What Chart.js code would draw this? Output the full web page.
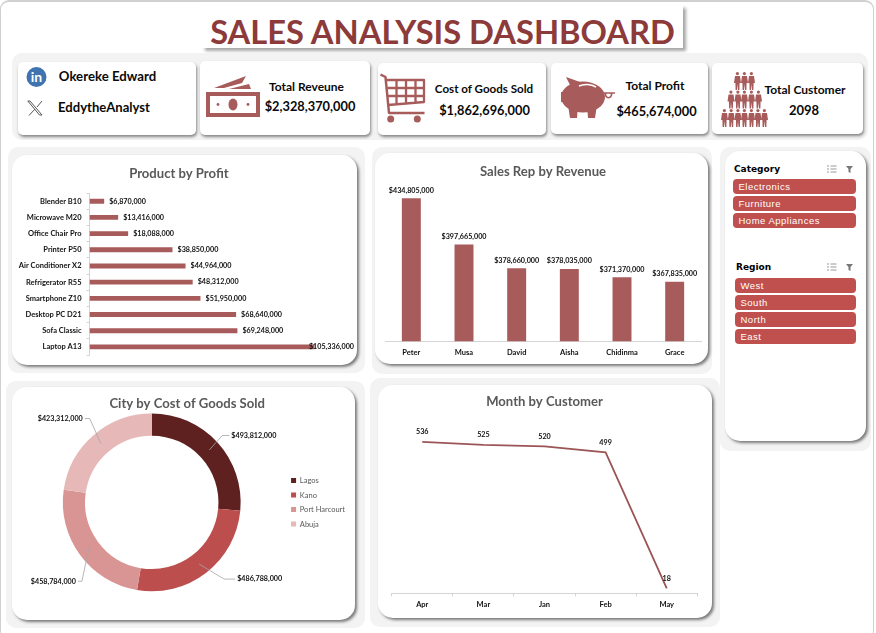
<!DOCTYPE html>
<html><head><meta charset="utf-8">
<script src="https://cdn.jsdelivr.net/npm/chart.js@4"></script>
<style>
html,body{margin:0;padding:0;background:#fff;width:876px;height:633px;overflow:hidden;font-family:Lato,sans-serif}
.a{position:absolute}
.frame{left:0;top:0;width:874px;height:640px;border:1px solid #d0d0d0;border-radius:9px;border-width:2px 1px 0 1px;box-sizing:border-box}
.bg{background:#f3f3f3;border-radius:10px}
.panel{background:#fff;border-radius:15px;box-shadow:2px 2px 3px rgba(0,0,0,.5)}
.card{background:#fff;border-radius:5px;box-shadow:1px 2px 3px rgba(0,0,0,.45)}
.t{white-space:nowrap;color:#0a0a0a;font-weight:700;transform:translate(-50%,-50%)}
.title{left:202px;top:5px;width:481px;height:43px;background:#fff;box-shadow:3px 3px 3px rgba(0,0,0,.35);text-align:center;color:#8c3a3a;font-weight:700;font-size:32.700px;line-height:54px;white-space:nowrap}
canvas{position:absolute;display:block}
.btn{background:#c0504d;border-radius:4px;color:#fff;font:9.500px/15px "Liberation Sans",sans-serif;letter-spacing:.5px;box-sizing:border-box;padding-left:5.500px;height:15px}
.sh{font:bold 9px "DejaVu Sans",sans-serif;color:#000;white-space:nowrap}
</style></head><body>
<div class="a frame"></div>
<div class="a title">SALES ANALYSIS DASHBOARD</div>
<div class="a bg" style="left:12px;top:53px;width:856px;height:87px"></div>
<div class="a bg" style="left:8px;top:147px;width:357px;height:226px"></div>
<div class="a bg" style="left:372px;top:147px;width:340px;height:227px"></div>
<div class="a bg" style="left:720px;top:147px;width:151px;height:304px"></div>
<div class="a bg" style="left:6px;top:381px;width:359px;height:247px"></div>
<div class="a bg" style="left:370px;top:378px;width:350px;height:249px"></div>

<div class="a card" style="left:18px;top:62px;width:178px;height:73px"></div>
<div class="a card" style="left:200px;top:61px;width:170px;height:74px"></div>
<div class="a card" style="left:378px;top:63px;width:168px;height:72px"></div>
<div class="a card" style="left:551px;top:63px;width:157px;height:71px"></div>
<div class="a card" style="left:712px;top:63px;width:151px;height:71px"></div>

<svg class="a" style="left:0;top:0" width="876" height="140" viewBox="0 0 876 140">
<defs><symbol id="p" viewBox="0 0 7 18" overflow="visible"><circle cx="3.4" cy="1.6" r="1.6"/><path d="M1 4h5l1 7H5.6l-.2 7H4L3.5 12 3 18H1.6l-.2-7H0z"/></symbol></defs>
<circle cx="36.5" cy="77" r="10" fill="#3f74b1"/>
<text x="36.5" y="82" text-anchor="middle" fill="#fff" font-family="Lato" font-weight="700" font-size="14">in</text>
<path d="M30 101l12 14h-2.5L27.8 101zM42 101l-5 6M35 109l-6 6.500" fill="none" stroke="#555" stroke-width="1"/>
<g fill="#a85b5b">
<path d="M206 92h54v25h-54z"/>
<path d="M214 88l32-12-4 7-18 5zM229 89l20-5 2 5z"/>
<rect x="210" y="96" width="46" height="17" fill="#fff"/>
<ellipse cx="233" cy="104.500" rx="4.500" ry="6"/>
<circle cx="218" cy="104.500" r="1.400"/><circle cx="248" cy="104.500" r="1.400"/>
<circle cx="390.700" cy="119" r="3.500"/><circle cx="417.300" cy="119" r="3.500"/>
<ellipse cx="583" cy="97" rx="22" ry="15.500"/>
<path d="M566 77l14 5-8 7zM561 92h6v10h-6zM568 105h10l-1 13h-7zM587 105h10l-2 13h-7z"/>
</g>
<path d="M579 86c5-2.500 12-2 17 1" stroke="#fff" stroke-width="1.500" fill="none"/>
<path d="M604 93h11M606 93a3 3 0 1 0 5 0" stroke="#a85b5b" stroke-width="1.500" fill="none"/>
<g fill="none" stroke="#a85b5b" stroke-linejoin="round"><path d="M380.500 74.500l5 2.500 3.500 36h35.500" stroke-width="2.500"/><path d="M387 80h37v22l-36 3M396.500 80v24M406 80v23M415.500 80v22M387.500 88h36.500M388 96h36" stroke-width="2.300"/></g>
<g fill="#a85b5b" id="people">
<use href="#p" x="734" y="72" width="7" height="18"/><use href="#p" x="741" y="72" width="7" height="18"/><use href="#p" x="748" y="72" width="7" height="18"/>
<use href="#p" x="727.500" y="90.500" width="7" height="18"/><use href="#p" x="734.500" y="90.500" width="7" height="18"/><use href="#p" x="741" y="90.500" width="7" height="18"/><use href="#p" x="748" y="90.500" width="7" height="18"/><use href="#p" x="755" y="90.500" width="7" height="18"/>
<use href="#p" x="721" y="109" width="7" height="18"/><use href="#p" x="727.800" y="109" width="7" height="18"/><use href="#p" x="734.500" y="109" width="7" height="18"/><use href="#p" x="741" y="109" width="7" height="18"/><use href="#p" x="748" y="109" width="7" height="18"/><use href="#p" x="754.500" y="109" width="7" height="18"/><use href="#p" x="761" y="109" width="7" height="18"/>
</g>
</svg>

<div class="a t" style="left:107.500px;top:76px;font-size:13.200px">Okereke Edward</div>
<div class="a t" style="left:104px;top:107px;font-size:13.100px">EddytheAnalyst</div>
<div class="a t" style="left:306.500px;top:86px;font-size:12px">Total Reveune</div>
<div class="a t" style="left:310px;top:106px;font-size:12.800px">$2,328,370,000</div>
<div class="a t" style="left:484px;top:88px;font-size:11.600px">Cost of Goods Sold</div>
<div class="a t" style="left:484.500px;top:110px;font-size:12.800px">$1,862,696,000</div>
<div class="a t" style="left:655px;top:85px;font-size:12px">Total Profit</div>
<div class="a t" style="left:656.500px;top:111px;font-size:12.800px">$465,674,000</div>
<div class="a t" style="left:805px;top:89px;font-size:12px">Total Customer</div>
<div class="a t" style="left:804px;top:110px;font-size:13px">2098</div>

<div class="a panel" style="left:12px;top:155px;width:345px;height:210px"></div>
<div class="a panel" style="left:375px;top:153px;width:333px;height:211px"></div>
<div class="a panel" style="left:12px;top:387px;width:343px;height:233px"></div>
<div class="a panel" style="left:378px;top:385px;width:334px;height:233px"></div>
<div class="a panel" style="left:725px;top:151px;width:141px;height:290px"></div>

<canvas id="c1" width="345" height="210" style="left:12px;top:155px"></canvas>
<canvas id="c2" width="333" height="211" style="left:375px;top:153px"></canvas>
<canvas id="c3" width="347" height="233" style="left:12px;top:387px"></canvas>
<canvas id="c4" width="340" height="233" style="left:378px;top:385px"></canvas>

<div class="a sh" style="left:734px;top:164px">Category</div>
<div class="a sh" style="left:736px;top:262px">Region</div>
<svg class="a" style="left:826px;top:165px" width="30" height="10"><g stroke="#999" fill="none"><path d="M1 1h2M1 4h2M1 7h2M4.500 1h6M4.500 4h6M4.500 7h6"/></g><path d="M20 1h7l-2.500 3v4l-2-1V4z" fill="#777"/></svg>
<svg class="a" style="left:826px;top:263px" width="30" height="10"><g stroke="#999" fill="none"><path d="M1 1h2M1 4h2M1 7h2M4.500 1h6M4.500 4h6M4.500 7h6"/></g><path d="M20 1h7l-2.500 3v4l-2-1V4z" fill="#777"/></svg>
<div class="a btn" style="left:733px;top:179px;width:123px">Electronics</div>
<div class="a btn" style="left:733px;top:196px;width:123px">Furniture</div>
<div class="a btn" style="left:733px;top:213px;width:123px">Home Appliances</div>
<div class="a btn" style="left:735px;top:278px;width:121px">West</div>
<div class="a btn" style="left:735px;top:295px;width:121px">South</div>
<div class="a btn" style="left:735px;top:312px;width:121px">North</div>
<div class="a btn" style="left:735px;top:329px;width:121px">East</div>

<script>
const products = ["Blender B10","Microwave M20","Office Chair Pro","Printer P50","Air Conditioner X2","Refrigerator R55","Smartphone Z10","Desktop PC D21","Sofa Classic","Laptop A13"];
const productProfit = [6870000,13416000,18088000,38850000,44964000,48312000,51950000,68640000,69248000,105336000];
const reps = ["Peter","Musa","David","Aisha","Chidinma","Grace"];
const repRevenue = [434805000,397665000,378660000,378035000,371370000,367835000];
const cities = ["Lagos","Kano","Port Harcourt","Abuja"];
const cityCogs = [493812000,486788000,458784000,423312000];
const months = ["Apr","Mar","Jan","Feb","May"];
const monthCustomers = [536,525,520,499,18];

const BAR = "#a85b5b", AXIS = "#d4d4d4", TXT = "#111111", TITLE = "#595959";
const FF = "Lato, sans-serif";
const money = v => "$" + v.toLocaleString("en-US");
const lblFont = "bold 7.2px " + FF;
const title = (text, t, b) => ({display:true,text,color:TITLE,font:{family:FF,size:13.100,weight:"bold",lineHeight:1.2},padding:{top:t,bottom:b}});

const valueLabels = {
  id:"valueLabels",
  afterDatasetsDraw(chart,args,o){
    if(!o.mode) return;
    const c = chart.ctx, meta = chart.getDatasetMeta(0), vals = chart.data.datasets[0].data;
    c.save(); c.font = lblFont; c.fillStyle = TXT;
    meta.data.forEach((el,i)=>{
      const s = o.fmt(vals[i]);
      if(o.mode==="right"){
        const w = c.measureText(s).width;
        c.textAlign="left"; c.textBaseline="middle";
        c.fillText(s, Math.min(el.x+5, chart.width-3-w), el.y);
      } else if(o.mode==="top"){
        c.textAlign="center"; c.textBaseline="middle";
        c.fillText(s, el.x, el.y-o.gap);
      } else if(o.mode==="leader"){
        const p = el.getCenterPoint(), f = o.offsets[i];
        c.strokeStyle="#a6a6a6"; c.lineWidth=.8;
        c.beginPath(); c.moveTo(p.x,p.y); c.lineTo(p.x+f[0],p.y+f[1]); c.lineTo(p.x+f[2],p.y+f[1]); c.stroke();
        c.textAlign = f[2]>0 ? "left":"right"; c.textBaseline="middle";
        c.fillText(s, p.x+f[2]+(f[2]>0?2:-2), p.y+f[1]);
      }
    });
    c.restore();
  }
};
Chart.register(valueLabels);
Chart.defaults.animation = false;
Chart.defaults.responsive = false;
Chart.defaults.plugins.tooltip.enabled = false;
const tick = {color:TXT,font:{family:FF,size:7.500,weight:"bold"}};

new Chart("c1",{type:"bar",
  data:{labels:products,datasets:[{data:productProfit,backgroundColor:BAR,barPercentage:.3,categoryPercentage:1}]},
  options:{indexAxis:"y",layout:{padding:{right:11.2,bottom:10}},
    plugins:{legend:{display:false},title:title("Product by Profit",11,11.4),valueLabels:{mode:"right",fmt:money}},
    scales:{
      x:{display:false,min:0,max:120000000},
      y:{afterFit(s){s.width=77.5},border:{color:AXIS},grid:{drawOnChartArea:false,color:AXIS,tickLength:3},ticks:{...tick,padding:5,autoSkip:false}}
    }}});

new Chart("c2",{type:"bar",
  data:{labels:reps,datasets:[{data:repRevenue,backgroundColor:BAR,barPercentage:.36,categoryPercentage:1}]},
  options:{layout:{padding:{left:10,right:7}},
    plugins:{legend:{display:false},title:title("Sales Rep by Revenue",11.2,11.9),valueLabels:{mode:"top",gap:8,fmt:money}},
    scales:{
      x:{afterFit(s){s.height=22.7},border:{color:AXIS},grid:{display:false,drawTicks:false},ticks:{...tick,padding:7}},
      y:{display:false,min:320000000,max:440000000}
    }}});

new Chart("c3",{type:"doughnut",
  data:{labels:cities,datasets:[{data:cityCogs,backgroundColor:["#5f2120","#bc4f4e","#d99594","#e6b8b7"],borderWidth:0}]},
  options:{cutout:"75%",layout:{padding:{left:7.4,right:4,bottom:28.7}},
    plugins:{title:title("City by Cost of Goods Sold",8.5,2.2),
      legend:{position:"right",fullSize:false,labels:{boxWidth:5,boxHeight:5,padding:7,color:TITLE,font:{family:FF,size:7.5}}},
      valueLabels:{mode:"leader",fmt:money,offsets:[[13,-14.500,20],[25,15,36],[-7,33,-11],[-11,-25,-16]]}}}});

new Chart("c4",{type:"line",
  data:{labels:months,datasets:[{data:monthCustomers,borderColor:"#9c5556",borderWidth:1.800,pointRadius:0,tension:0}]},
  options:{layout:{padding:{left:13.7,right:20.7}},
    plugins:{legend:{display:false},title:title("Month by Customer",8.9,14.1),valueLabels:{mode:"top",gap:10,fmt:v=>String(v)}},
    scales:{
      x:{offset:true,afterFit(s){s.height=24.6},border:{color:AXIS},grid:{drawOnChartArea:false,color:AXIS,offset:true,tickLength:3},ticks:{...tick,padding:4}},
      y:{display:false,min:0,max:600}
    }}});
</script>
</body></html>
